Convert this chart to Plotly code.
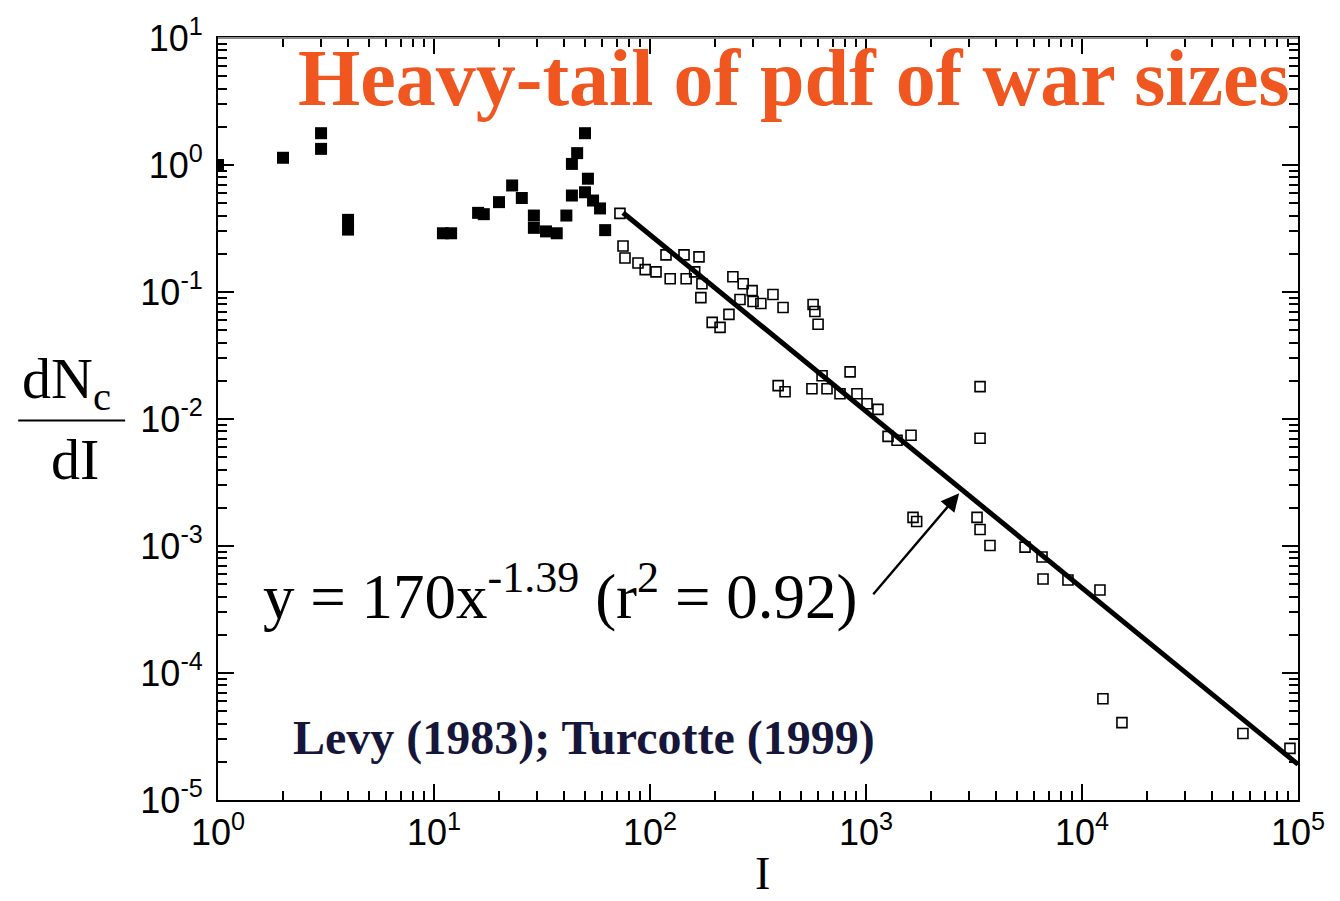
import numpy as np
import plotly.graph_objects as go

# Small wars (filled squares)
small_I = [1, 2, 3, 3, 4, 4, 11, 12, 16, 17, 20, 23, 25.5, 29, 29, 33, 37,
           41, 43.5, 43.5, 46, 50, 51.6, 50, 54.5, 58.7, 62]
small_pdf = [1.0, 1.14, 1.78, 1.34, 0.37, 0.31, 0.29, 0.29, 0.42, 0.41, 0.51, 0.69, 0.55,
             0.40, 0.32, 0.30, 0.29, 0.40, 0.575, 1.02, 1.24, 1.78, 0.78, 0.61, 0.525,
             0.455, 0.307]

# Larger wars (open squares)
large_I = [72.6, 75, 76.6, 88, 95, 106.6, 118.6, 124, 143.7, 147, 168.6, 161, 174, 172,
           194, 211, 232, 242, 270, 261, 297, 300, 326, 371, 413, 569, 580, 600,
           392, 422, 562, 626, 660, 758, 844, 908, 1011, 1136, 1265, 1392, 1616,
           3373, 3373, 1651, 1716, 3266, 3373, 3750, 5450, 6530, 6600, 8610, 12110,
           12500, 15310, 55600, 91800]
large_pdf = [0.416, 0.230, 0.185, 0.169, 0.150, 0.144, 0.196, 0.127, 0.196, 0.127, 0.189,
             0.144, 0.116, 0.0903, 0.0577, 0.0527, 0.0667, 0.132, 0.116, 0.0873, 0.1026,
             0.0841, 0.0812, 0.0955, 0.0755, 0.0797, 0.0703, 0.0557,
             0.0183, 0.0164, 0.0173, 0.0219, 0.0173, 0.0158, 0.0235, 0.0158, 0.0132,
             0.0119, 0.0073, 0.0068, 0.00745,
             0.018, 0.00706, 0.00168, 0.00156, 0.00168, 0.00135, 0.00101, 0.00098,
             0.00082, 0.00055, 0.00054, 0.00045,
             6.27e-5, 4.07e-5, 3.34e-5, 2.55e-5]

# Power-law fit y = 170 x^-1.39
fit_coef = 170
fit_exp = -1.39
fit_r2 = 0.92
fit_I = np.logspace(np.log10(75), 5, 60)
fit_pdf = fit_coef * fit_I ** fit_exp

x_tick_vals = [1, 10, 100, 1000, 10000, 100000]
x_tick_text = ["10<sup>0</sup>", "10<sup>1</sup>", "10<sup>2</sup>", "10<sup>3</sup>",
               "10<sup>4</sup>", "10<sup>5</sup>"]
y_tick_vals = [1e1, 1e0, 1e-1, 1e-2, 1e-3, 1e-4, 1e-5]
y_tick_text = ["10<sup>1</sup>", "10<sup>0</sup>", "10<sup>-1</sup>", "10<sup>-2</sup>",
               "10<sup>-3</sup>", "10<sup>-4</sup>", "10<sup>-5</sup>"]

x_minor = [k * 10.0 ** n for n in range(0, 5) for k in range(2, 10)]
y_minor = [k * 10.0 ** n for n in range(-5, 1) for k in range(2, 10)]

fig = go.Figure()
fig.add_trace(go.Scatter(
    x=fit_I, y=fit_pdf, mode="lines",
    line=dict(color="black", width=5), showlegend=False, hoverinfo="skip"))
fig.add_trace(go.Scatter(
    x=small_I, y=small_pdf, mode="markers",
    marker=dict(symbol="square", size=12, color="black"), showlegend=False))
fig.add_trace(go.Scatter(
    x=large_I, y=large_pdf, mode="markers",
    marker=dict(symbol="square-open", size=10, color="black", line=dict(width=1.6)),
    showlegend=False))

tick_font = dict(family="Liberation Sans, Arial, sans-serif", size=36, color="black")

fig.update_xaxes(
    type="log", range=[0, 5], tickmode="array", tickvals=x_tick_vals, ticktext=x_tick_text,
    ticks="inside", ticklen=16, tickwidth=2, tickcolor="black",
    showline=True, linecolor="black", linewidth=2, mirror="ticks",
    showgrid=False, zeroline=False, tickfont=tick_font,
    minor=dict(tickmode="array", tickvals=x_minor, ticks="inside", ticklen=9,
               tickwidth=1.5, tickcolor="black", showgrid=False))
fig.update_yaxes(
    type="log", range=[-5, 1], tickmode="array", tickvals=y_tick_vals, ticktext=y_tick_text,
    ticks="inside", ticklen=16, tickwidth=2, tickcolor="black",
    showline=True, linecolor="black", linewidth=2, mirror="ticks",
    showgrid=False, zeroline=False, tickfont=tick_font, ticklabelstandoff=6,
    minor=dict(tickmode="array", tickvals=y_minor, ticks="inside", ticklen=9,
               tickwidth=1.5, tickcolor="black", showgrid=False))

serif = "Liberation Serif, Times New Roman, serif"

annotations = [
    dict(text="<b>Heavy-tail of pdf of war sizes</b>", xref="paper", yref="paper",
         x=0.533, y=0.948, xanchor="center", yanchor="middle", showarrow=False,
         font=dict(family=serif, size=80, color="#F0561F")),
    dict(text=f"y = {fit_coef}x<sup>{fit_exp}</sup> (r<sup>2</sup> = {fit_r2})",
         xref="paper", yref="paper", x=0.04, y=0.272, xanchor="left", yanchor="middle",
         showarrow=False, font=dict(family=serif, size=63, color="black")),
    dict(text="<b>Levy (1983); Turcotte (1999)</b>", xref="paper", yref="paper",
         x=0.068, y=0.082, xanchor="left", yanchor="middle", showarrow=False,
         font=dict(family=serif, size=48, color="#16163a")),
    dict(text="dN<sub>c</sub>", xref="paper", yref="paper", x=-0.183, y=0.548,
         xanchor="left", yanchor="middle", showarrow=False,
         font=dict(family=serif, size=58, color="black")),
    dict(text="dI", xref="paper", yref="paper", x=-0.132, y=0.447,
         xanchor="center", yanchor="middle", showarrow=False,
         font=dict(family=serif, size=58, color="black")),
    dict(text="I", xref="paper", yref="paper", x=0.504, y=-0.096,
         xanchor="center", yanchor="middle", showarrow=False,
         font=dict(family=serif, size=46, color="black")),
    # arrow pointing at the fitted line
    dict(text="", xref="x", yref="y", x=np.log10(2700), y=np.log10(0.0026),
         axref="x", ayref="y", ax=np.log10(1066), ay=np.log10(4.06e-4),
         showarrow=True, arrowhead=2, arrowsize=1.5, arrowwidth=2.4, arrowcolor="black"),
]

shapes = [
    # fraction bar of the y-axis label
    dict(type="line", xref="paper", yref="paper", x0=-0.185, x1=-0.086,
         y0=0.498, y1=0.498, line=dict(color="black", width=2)),
    # lighter top frame line
    dict(type="line", xref="paper", yref="paper", x0=0, x1=1, y0=1, y1=1,
         line=dict(color="#8a8a8a", width=2)),
]

fig.update_layout(
    width=1340, height=901,
    margin=dict(l=218, r=42, t=31, b=101),
    paper_bgcolor="white", plot_bgcolor="white",
    annotations=annotations, shapes=shapes, showlegend=False,
)

fig.write_html("out.html")
